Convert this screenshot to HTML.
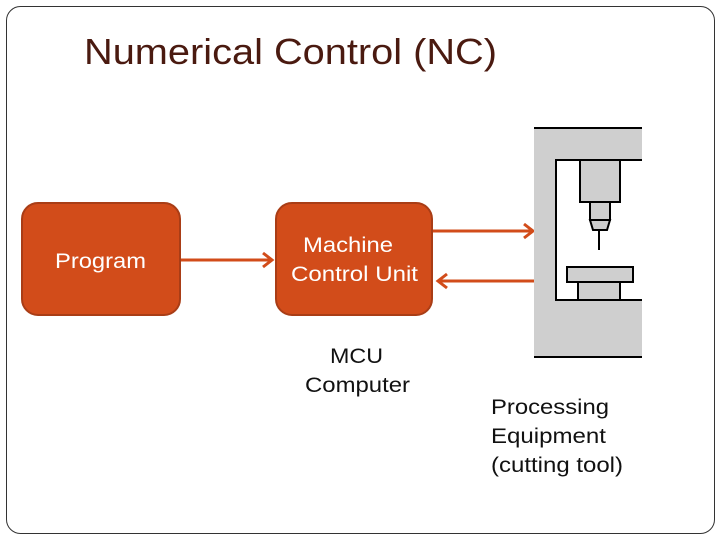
<!DOCTYPE html>
<html><head><style>
body{margin:0;width:720px;height:540px;background:#fff;overflow:hidden;font-family:"Liberation Sans",sans-serif;}
</style></head><body>
<svg width="720" height="540" xmlns="http://www.w3.org/2000/svg" font-family="Liberation Sans, sans-serif">
<rect x="6.5" y="6.5" width="708" height="527" rx="14" fill="#fff" stroke="#333" stroke-width="1"/>
<text x="84" y="64" font-size="36" fill="#4a1a10" textLength="413" lengthAdjust="spacingAndGlyphs">Numerical Control (NC)</text>
<rect x="22" y="203" width="158" height="112" rx="16" fill="#d24c1a" stroke="#a93d16" stroke-width="2"/>
<text x="55" y="268" font-size="21" fill="#fff" textLength="91" lengthAdjust="spacingAndGlyphs">Program</text>
<rect x="276" y="203" width="156" height="112" rx="16" fill="#d24c1a" stroke="#a93d16" stroke-width="2"/>
<text x="303" y="252" font-size="21" fill="#fff" textLength="90" lengthAdjust="spacingAndGlyphs">Machine</text>
<text x="291" y="281" font-size="21" fill="#fff" textLength="127" lengthAdjust="spacingAndGlyphs">Control Unit</text>
<g stroke="#d24c1a" stroke-width="3" fill="none">
<line x1="181" y1="260" x2="271" y2="260"/><polyline points="263,253 272,260 263,267"/>
<line x1="433" y1="231" x2="532" y2="231"/><polyline points="524,224 533,231 524,238"/>
<line x1="534" y1="281" x2="439" y2="281"/><polyline points="447,274 438,281 447,288"/>
</g>
<text x="330" y="363" font-size="21" fill="#111" textLength="53" lengthAdjust="spacingAndGlyphs">MCU</text>
<text x="305" y="392" font-size="21" fill="#111" textLength="105" lengthAdjust="spacingAndGlyphs">Computer</text>
<text x="491" y="414" font-size="21" fill="#111" textLength="118" lengthAdjust="spacingAndGlyphs">Processing</text>
<text x="491" y="443" font-size="21" fill="#111" textLength="115" lengthAdjust="spacingAndGlyphs">Equipment</text>
<text x="491" y="472" font-size="21" fill="#111" textLength="132" lengthAdjust="spacingAndGlyphs">(cutting tool)</text>
<g stroke="#000" stroke-width="2" fill="#cfcfcf">
<path d="M534,128 H642 V160 H556 V300 H642 V357 H534 Z" stroke="none"/>
<polyline points="534,128 642,128" fill="none"/>
<polyline points="642,160 556,160 556,300 642,300" fill="none"/>
<polyline points="534,357 642,357" fill="none"/>
<rect x="580" y="160" width="40" height="42"/>
<rect x="590" y="202" width="20" height="18"/>
<polygon points="590,220 610,220 607,230 593,230"/>
<line x1="599" y1="230" x2="599" y2="250"/>
<rect x="567" y="267" width="66" height="15"/>
<rect x="578" y="282" width="42" height="18"/>
</g>
</svg>
</body></html>
